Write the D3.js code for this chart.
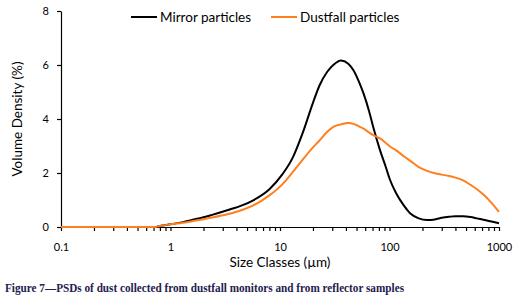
<!DOCTYPE html>
<html>
<head>
<meta charset="utf-8">
<script src="https://cdn.jsdelivr.net/npm/d3@7"></script>
<style>
    body { margin: 0; background: #fff; }
    .tick text { font-family: Lato, "Open Sans", sans-serif; font-size: 11px; fill: #000; }
</style>
</head>
<body>
<div id="chart"></div>
<script>
// particle size classes (um)
const sizes = [0.1, 0.3, 0.5, 0.72, 0.8, 1, 1.3, 1.6, 2, 2.4, 3.3, 4.5, 5.7, 8, 10.5, 13, 16, 20, 23, 27, 31, 36, 42, 47, 53, 58, 65, 71, 82, 92, 101, 115, 135, 155, 185, 220, 260, 300, 350, 400, 470, 550, 630, 720, 830, 1000];

// volume density (%)
const mirror = [0, 0, 0, 0, 0.04, 0.10, 0.18, 0.27, 0.36, 0.45, 0.62, 0.80, 0.99, 1.40, 1.95, 2.55, 3.45, 4.60, 5.25, 5.75, 6.02, 6.17, 6.05, 5.80, 5.35, 4.94, 4.30, 3.70, 2.84, 2.25, 1.75, 1.25, 0.80, 0.50, 0.32, 0.26, 0.28, 0.34, 0.38, 0.40, 0.40, 0.37, 0.32, 0.27, 0.21, 0.14];
const dustfall = [0, 0, 0, 0, 0.04, 0.10, 0.16, 0.22, 0.29, 0.35, 0.47, 0.63, 0.80, 1.17, 1.58, 2.02, 2.48, 2.95, 3.21, 3.53, 3.72, 3.80, 3.85, 3.82, 3.72, 3.64, 3.50, 3.40, 3.28, 3.12, 2.98, 2.84, 2.62, 2.45, 2.22, 2.08, 1.99, 1.94, 1.89, 1.83, 1.73, 1.56, 1.40, 1.20, 0.95, 0.56];

const xTicks = [0.1, 1, 10, 100, 1000];
const yTicks = [0, 2, 4, 6, 8];
const seriesNames = ["Mirror particles", "Dustfall particles"];
const seriesColors = ["#000000", "#ff7f1e"];

let margin = {top: 11, right: 22, bottom: 75, left: 61};
let width = 521 - margin.left - margin.right;
let height = 302 - margin.top - margin.bottom;

let svg = d3.select("#chart").append("svg")
    .attr("width", 521)
    .attr("height", 302);

let g = svg.append("g")
    .attr("transform", `translate(${margin.left},${margin.top})`);

let x = d3.scaleLog().domain([0.1, 1000]).range([0, width]);
let y = d3.scaleLinear().domain([0, 8]).range([height, 0]);

// minor log ticks
let minorTicks = [];
xTicks.slice(0, -1).forEach(t => {
    for (let k = 1; k < 10; k++) minorTicks.push(t * k);
});
minorTicks.push(1000);

let xAxis = g.append("g")
    .attr("transform", `translate(0,${height})`)
    .call(d3.axisBottom(x).tickValues(minorTicks).tickSize(4).tickSizeOuter(0)
        .tickFormat(d => xTicks.includes(d) ? (d < 1 ? "0.1" : d3.format("d")(d)) : ""));
xAxis.selectAll(".tick text").attr("dy", "1.5em");

let yAxis = g.append("g")
    .call(d3.axisLeft(y).tickValues(yTicks).tickSize(4).tickSizeOuter(0).tickPadding(8));

g.selectAll(".domain, .tick line").attr("stroke", "#000").attr("stroke-width", 1.2);

// axis titles
g.append("text")
    .attr("x", width / 2)
    .attr("y", height + 40)
    .attr("text-anchor", "middle")
    .style("font-family", "Lato, 'Open Sans', sans-serif")
    .style("font-size", "13.5px")
    .text("Size Classes (\u00b5m)");

g.append("text")
    .attr("transform", `translate(${-39},${height / 2}) rotate(-90)`)
    .attr("text-anchor", "middle")
    .style("font-family", "Lato, 'Open Sans', sans-serif")
    .style("font-size", "13.5px")
    .text("Volume Density (%)");

// curves
let line = d3.line()
    .x((d, i) => x(sizes[i]))
    .y(d => y(d))
    .curve(d3.curveMonotoneX);

[mirror, dustfall].forEach((s, i) => {
    g.append("path")
        .datum(s)
        .attr("fill", "none")
        .attr("stroke", seriesColors[i])
        .attr("stroke-width", 2)
        .attr("d", line);
});

// legend
let legendX = [131, 271];
seriesNames.forEach((name, i) => {
    svg.append("line")
        .attr("x1", legendX[i]).attr("x2", legendX[i] + 26)
        .attr("y1", 17).attr("y2", 17)
        .attr("stroke", seriesColors[i])
        .attr("stroke-width", 2);
    svg.append("text")
        .attr("x", legendX[i] + 29)
        .attr("y", 22)
        .style("font-family", "Lato, 'Open Sans', sans-serif")
        .style("font-size", "13.5px")
        .text(name);
});

// caption
svg.append("text")
    .attr("x", 5)
    .attr("y", 292)
    .attr("textLength", 399)
    .attr("lengthAdjust", "spacingAndGlyphs")
    .style("font-family", "'Liberation Serif', serif")
    .style("font-weight", "bold")
    .style("font-size", "12px")
    .style("fill", "#24204f")
    .text("Figure 7\u2014PSDs of dust collected from dustfall monitors and from reflector samples");
</script>
</body>
</html>
